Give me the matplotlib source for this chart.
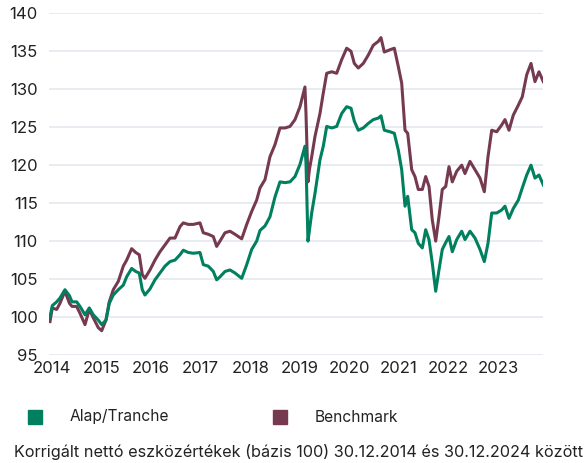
import matplotlib
matplotlib.use("Agg")
import matplotlib.pyplot as plt
from matplotlib.patches import Rectangle

plt.rcParams['font.family'] = ['Inter', 'DejaVu Sans']

# decimal years
years = [2013.960, 2014.006, 2014.095, 2014.161, 2014.262, 2014.353, 2014.404, 2014.498,
         2014.565, 2014.666, 2014.753, 2014.833, 2014.934, 2015.003, 2015.090, 2015.156,
         2015.237, 2015.338, 2015.439, 2015.507, 2015.608, 2015.689, 2015.761, 2015.822,
         2015.876, 2015.977, 2016.078, 2016.179, 2016.280, 2016.381, 2016.482, 2016.583,
         2016.649, 2016.750, 2016.851, 2016.986, 2017.053, 2017.154, 2017.255, 2017.323,
         2017.390, 2017.491, 2017.592, 2017.692, 2017.828, 2017.929, 2018.029, 2018.130,
         2018.197, 2018.298, 2018.398, 2018.499, 2018.600, 2018.701, 2018.802, 2018.903,
         2019.004, 2019.104, 2019.125, 2019.165, 2019.196, 2019.240, 2019.307, 2019.407,
         2019.474, 2019.543, 2019.644, 2019.744, 2019.845, 2019.946, 2020.033, 2020.100,
         2020.180, 2020.281, 2020.382, 2020.483, 2020.584, 2020.638, 2020.705, 2020.820,
         2020.907, 2020.987, 2021.056, 2021.123, 2021.177, 2021.258, 2021.324, 2021.391,
         2021.472, 2021.540, 2021.607, 2021.673, 2021.742, 2021.808, 2021.875, 2021.944,
         2022.010, 2022.077, 2022.166, 2022.267, 2022.333, 2022.434, 2022.535, 2022.636,
         2022.723, 2022.797, 2022.872, 2022.973, 2023.074, 2023.140, 2023.221, 2023.308,
         2023.409, 2023.489, 2023.578, 2023.665, 2023.745, 2023.826, 2023.913]

alap = [100.0, 101.5, 102.0, 102.5, 103.6, 102.8, 102.0, 102.0,
        101.4, 100.3, 101.2, 100.3, 99.6, 99.0, 99.6, 101.8,
        102.9, 103.6, 104.2, 105.3, 106.4, 106.0, 105.8, 103.6,
        102.9, 103.7, 104.9, 105.8, 106.7, 107.3, 107.5, 108.2,
        108.8, 108.5, 108.4, 108.5, 106.9, 106.7, 106.0, 104.9,
        105.3, 106.0, 106.2, 105.8, 105.1, 106.9, 108.9, 110.0,
        111.4, 112.0, 113.2, 115.8, 117.8, 117.7, 117.8, 118.5,
        120.1, 122.5, 120.3, 110.0, 111.5, 113.7, 116.3, 120.7,
        122.5, 125.1, 124.9, 125.1, 126.8, 127.7, 127.5, 125.8,
        124.6, 124.9, 125.5, 126.0, 126.2, 126.5, 124.6, 124.4,
        124.2, 122.0, 119.4, 114.6, 115.9, 111.5, 111.1, 109.7,
        109.1, 111.5, 110.2, 107.1, 103.4, 106.2, 108.9, 109.8,
        110.6, 108.6, 110.2, 111.3, 110.2, 111.3, 110.4, 108.9,
        107.3, 109.7, 113.7, 113.7, 114.1, 114.6, 113.0, 114.3,
        115.4, 117.0, 118.7, 120.0, 118.3, 118.7, 117.4]

benchmark = [99.4, 101.2, 101.0, 101.8, 103.4, 101.8, 101.4, 101.4,
             100.5, 99.0, 101.0, 99.9, 98.6, 98.2, 99.6, 102.0,
             103.6, 104.7, 106.7, 107.5, 109.0, 108.5, 108.2, 105.6,
             105.1, 106.2, 107.5, 108.6, 109.5, 110.4, 110.4, 111.9,
             112.4, 112.2, 112.2, 112.4, 111.1, 110.9, 110.6, 109.3,
             110.0, 111.1, 111.3, 110.9, 110.3, 112.2, 113.9, 115.4,
             117.0, 118.1, 121.1, 122.7, 124.9, 124.9, 125.1, 126.0,
             127.7, 130.3, 126.8, 117.8, 119.5, 121.1, 123.8, 126.8,
             129.5, 132.1, 132.3, 132.1, 133.9, 135.4, 135.0, 133.4,
             132.8, 133.4, 134.5, 135.8, 136.3, 136.8, 134.9, 135.2,
             135.4, 133.0, 130.8, 124.6, 124.2, 119.4, 118.5, 116.8,
             116.8, 118.5, 117.2, 112.8, 110.0, 113.2, 116.8, 117.2,
             119.8, 117.8, 119.2, 120.0, 118.9, 120.5, 119.4, 118.3,
             116.5, 121.1, 124.6, 124.4, 125.3, 126.0, 124.6, 126.6,
             127.9, 129.0, 131.9, 133.4, 131.0, 132.3, 131.0]

xtick_labels = ['2014', '2015', '2016', '2017', '2018', '2019', '2020', '2021', '2022', '2023']
yticks = [95, 100, 105, 110, 115, 120, 125, 130, 135, 140]

green = '#00805f'
maroon = '#763a50'
txt = '#222222'

fig = plt.figure(figsize=(5.85, 4.63), dpi=100)
ax = fig.add_axes([49/585, 1-355/463, (543.3-49)/585, (355-13.3)/463])

ax.plot(years, benchmark, color=maroon, lw=2.2, zorder=3)
ax.plot(years, alap, color=green, lw=2.2, zorder=4)

ax.set_xlim(2013.94, 2023.913)
ax.set_ylim(95, 140)
ax.set_yticks(yticks)
ax.set_xticks([2014 + i for i in range(len(xtick_labels))])
ax.set_xticklabels(xtick_labels)
ax.grid(axis='y', color='#e4e7ed', lw=1.2)
ax.set_axisbelow(True)
for s in ax.spines.values():
    s.set_visible(False)
ax.tick_params(length=0, labelsize=12, colors=txt, pad=8)
ax.tick_params(axis='x', pad=4)

# legend
fig.patches.append(Rectangle((28/585, 1-424/463), 14/585, 14/463, transform=fig.transFigure,
                             color=green, figure=fig))
fig.text(70/585, 1-417/463, 'Alap/Tranche', fontsize=11.2, color=txt, va='center')
fig.patches.append(Rectangle((273/585, 1-424/463), 14/585, 14/463, transform=fig.transFigure,
                             color=maroon, figure=fig))
fig.text(315/585, 1-417/463, 'Benchmark', fontsize=11.2, color=txt, va='center')

fig.text(14/585, 1-452/463, 'Korrigált nettó eszközértékek (bázis 100) 30.12.2014 és 30.12.2024 között',
         fontsize=11.7, color=txt, va='center')

fig.savefig('out.png', dpi=100)
